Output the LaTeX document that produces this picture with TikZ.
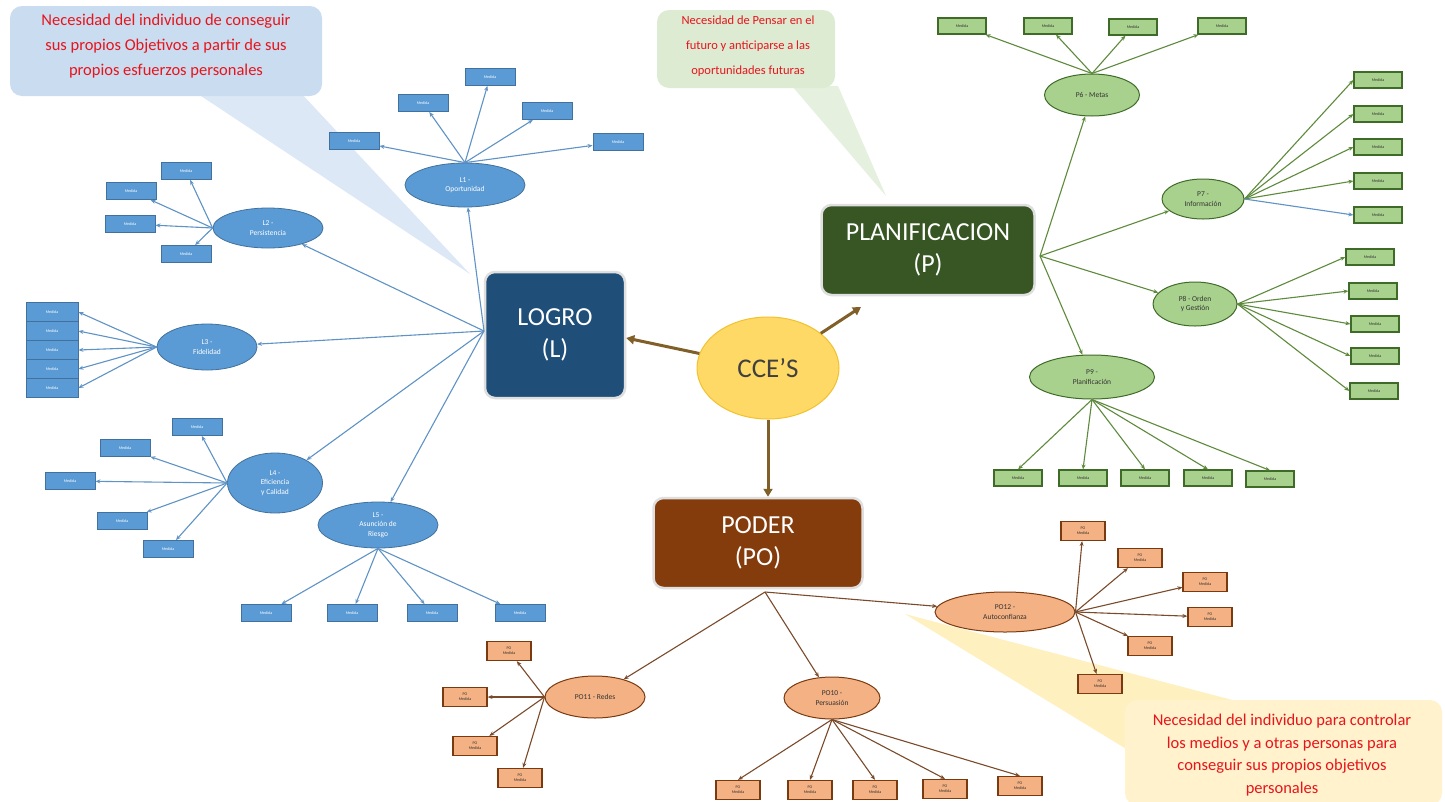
\documentclass[tikz,border=0pt]{standalone}
\usepackage{fontspec}
\setmainfont{Carlito}
\usetikzlibrary{shapes.geometric,arrows.meta}
\definecolor{bfill}{HTML}{5B9BD5}
\definecolor{bdraw}{HTML}{41719C}
\definecolor{barrc}{HTML}{5F93C6}
\definecolor{gfill}{HTML}{A9D18E}
\definecolor{gdraw}{HTML}{3F6B28}
\definecolor{garrc}{HTML}{5E8A3C}
\definecolor{ofill}{HTML}{F4B183}
\definecolor{odraw}{HTML}{7A3A10}
\definecolor{oarrc}{HTML}{7B4A2A}
\definecolor{logroc}{HTML}{1F4E79}
\definecolor{planc}{HTML}{375623}
\definecolor{poderc}{HTML}{843C0C}
\definecolor{ccefill}{HTML}{FFD966}
\definecolor{ccedraw}{HTML}{F2C12E}
\definecolor{ccearr}{HTML}{806028}
\definecolor{callb}{HTML}{C9DCF0}
\definecolor{callbt}{HTML}{DCE8F5}
\definecolor{callg}{HTML}{DDEBD3}
\definecolor{callgt}{HTML}{E6F0DE}
\definecolor{cally}{HTML}{FFF2CC}
\definecolor{callyt}{HTML}{FFF0C0}
\definecolor{calltext}{HTML}{E8141B}
\begin{document}
\begin{tikzpicture}[x=1pt,y=-1pt,
  bigbox/.style={rectangle,rounded corners=10pt,draw=gray!25,line width=2.5pt,text=white,
     align=center,font=\fontsize{26}{32}\selectfont,inner sep=0pt},
  bell/.style={ellipse,fill=bfill,draw=bdraw,line width=0.8pt,text=white,align=center,
     font=\fontsize{7.5}{9.5}\selectfont,inner sep=0pt},
  gell/.style={ellipse,fill=gfill,draw=gdraw,line width=1pt,text=black!80,align=center,
     font=\fontsize{7.5}{9.5}\selectfont,inner sep=0pt},
  oell/.style={ellipse,fill=ofill,draw=odraw,line width=1pt,text=black!80,align=center,
     font=\fontsize{7.5}{9.5}\selectfont,inner sep=0pt},
  bleaf/.style={rectangle,fill=bfill,draw=bdraw,line width=0.8pt,text=white,
     minimum width=50pt,minimum height=17pt,inner sep=0pt,font=\fontsize{4}{5}\selectfont,align=center},
  gleaf/.style={rectangle,fill=gfill,draw=gdraw,line width=1.2pt,text=black!80,
     minimum width=48pt,minimum height=16pt,inner sep=0pt,font=\fontsize{4}{5}\selectfont,align=center},
  oleaf/.style={rectangle,fill=ofill,draw=odraw,line width=1.2pt,text=black!80,
     minimum width=44pt,minimum height=19pt,inner sep=0pt,font=\fontsize{4}{5}\selectfont,align=center},
  barr/.style={draw=barrc,line width=1.1pt,-{Stealth[length=5pt,width=4pt]}},
  garr/.style={draw=garrc,line width=1.1pt,-{Stealth[length=5pt,width=4pt]}},
  oarr/.style={draw=oarrc,line width=1.1pt,-{Stealth[length=5pt,width=4pt]}},
  carr/.style={draw=ccearr,line width=3pt,-{Triangle[length=8pt,width=9pt]}},
  calltxt/.style={text=calltext,align=center,inner sep=0pt}
]
\useasboundingbox[fill=white] (0,0) rectangle (1445,801);

% ---- callouts ----
\fill[callbt] (195,92) -- (470,274) -- (300,92) -- cycle;
\fill[callb,rounded corners=12pt] (10,6) rectangle (322,96);
\node[calltxt,font=\fontsize{16.5}{25}\selectfont] (cb) at (166,46) {Necesidad del individuo de conseguir\\sus propios Objetivos a partir de sus\\propios esfuerzos personales};

\fill[callgt] (792,86) -- (886,196) -- (838,86) -- cycle;
\fill[callg,rounded corners=12pt] (657,10) rectangle (835,88);
\node[calltxt,font=\fontsize{12.5}{25}\selectfont] (cg) at (748,46) {Necesidad de Pensar en el\\futuro y anticiparse a las\\oportunidades futuras};

\fill[callyt] (905,614) -- (1240,702) -- (1128,750) -- cycle;
\fill[cally,rounded corners=12pt] (1125,700) rectangle (1442,805);
\node[calltxt,font=\fontsize{16.5}{22.5}\selectfont] (cy) at (1282,755) {Necesidad del individuo para controlar\\los medios y a otras personas para\\conseguir sus propios objetivos\\personales};

% ---- main nodes ----
\node[bigbox,fill=logroc,minimum width=140pt,minimum height=126pt] (LOGRO) at (555,335) {LOGRO\\(L)};
\node[bigbox,fill=planc,minimum width=213pt,minimum height=90pt] (PLAN) at (928,250) {PLANIFICACION\\(P)};
\node[bigbox,fill=poderc,minimum width=209pt,minimum height=90pt] (PODER) at (758,543) {PODER\\(PO)};
\node[ellipse,fill=ccefill,draw=ccedraw,line width=1pt,minimum width=142pt,minimum height=102pt,
      font=\fontsize{27}{30}\selectfont,text=black!75] (CCE) at (768,368) {CCE’S};

\draw[carr] (CCE) -- (LOGRO.east |- 0,338);
\draw[carr] (CCE) -- (861,307);
\draw[carr] (CCE) -- (PODER.north -| CCE);

% ---- LOGRO branch ----
\coordinate (Lsrc) at (484,331);
\node[bell,minimum width=120pt,minimum height=44pt] (L1) at (465,185) {L1 -\\Oportunidad};
\node[bell,minimum width=110pt,minimum height=40pt] (L2) at (268,228) {L2 -\\Persistencia};
\node[bell,minimum width=100pt,minimum height=46pt] (L3) at (207,347) {L3 -\\Fidelidad};
\node[bell,minimum width=95pt,minimum height=60pt] (L4) at (275,483) {L4 -\\Eficiencia\\y Calidad};
\node[bell,minimum width=120pt,minimum height=46pt] (L5) at (378,525) {L5 -\\Asunción de\\Riesgo};
\foreach \t in {L1,L2,L3,L4,L5} {\draw[barr] (Lsrc) -- (\t);}

\foreach \n/\x/\y in {a/354/141,b/423/103,c/490/77,d/547/111,e/618/142} {
  \node[bleaf] (L1\n) at (\x,\y) {Medida};
  \draw[barr] (L1.north) -- (L1\n);}
\foreach \n/\x/\y in {a/186/171,b/131/191,c/130/224,d/186/254} {
  \node[bleaf] (L2\n) at (\x,\y) {Medida};
  \draw[barr] (L2.west) -- (L2\n);}
\foreach \n/\x/\y in {a/52/312,b/52/331,c/52/350,d/52/369,e/52/388} {
  \node[bleaf,minimum width=52pt,minimum height=19pt] (L3\n) at (\x,\y) {Medida};
  \draw[barr] (L3.west) -- (L3\n.east);}
\foreach \n/\x/\y in {a/197/427,b/125/448,c/70/481,d/122/521,e/168/549} {
  \node[bleaf] (L4\n) at (\x,\y) {Medida};
  \draw[barr] (L4.west) -- (L4\n);}
\foreach \n/\x/\y in {a/266/613,b/352/613,c/432/613,d/520/613} {
  \node[bleaf] (L5\n) at (\x,\y) {Medida};
  \draw[barr] (L5.south) -- (L5\n);}

% ---- PLANIFICACION branch ----
\coordinate (Psrc) at (1040,256);
\node[gell,minimum width=95pt,minimum height=42pt] (P6) at (1092,95) {P6 - Metas};
\node[gell,minimum width=82pt,minimum height=40pt] (P7) at (1203,199) {P7 -\\Información};
\node[gell,minimum width=84pt,minimum height=44pt] (P8) at (1195,304) {P8 - Orden\\y Gestión};
\node[gell,minimum width=125pt,minimum height=44pt] (P9) at (1092,377) {P9 -\\Planificación};
\foreach \t in {P6,P7,P8,P9} {\draw[garr] (Psrc) -- (\t);}

\foreach \n/\x/\y in {a/962/26,b/1048/26,c/1133/27,d/1222/26} {
  \node[gleaf] (P6\n) at (\x,\y) {Medida};
  \draw[garr] (P6.north) -- (P6\n);}
\foreach \n/\x/\y in {a/1378/80,b/1378/114,c/1378/147,d/1378/181} {
  \node[gleaf] (P7\n) at (\x,\y) {Medida};
  \draw[garr] (P7.east) -- (P7\n.west);}
\node[gleaf] (P7e) at (1378,215) {Medida};
\draw[barr] (P7.east) -- (P7e.west);
\foreach \n/\x/\y in {a/1370/257,b/1373/291,c/1375/324,d/1375/356,e/1374/391} {
  \node[gleaf] (P8\n) at (\x,\y) {Medida};
  \draw[garr] (P8.east) -- (P8\n.west);}
\foreach \n/\x/\y in {a/1018/478,b/1083/478,c/1145/478,d/1208/478,e/1270/479} {
  \node[gleaf] (P9\n) at (\x,\y) {Medida};
  \draw[garr] (P9.south) -- (P9\n.north);}

% ---- PODER branch ----
\coordinate (POsrc) at (765,592);
\node[oell,minimum width=100pt,minimum height=42pt] (PO11) at (595,697) {PO11 - Redes};
\node[oell,minimum width=96pt,minimum height=42pt] (PO10) at (832,698) {PO10 -\\Persuasión};
\node[oell,minimum width=140pt,minimum height=40pt] (PO12) at (1005,612) {PO12 -\\Autoconfianza};
\foreach \t in {PO11,PO10,PO12} {\draw[oarr] (POsrc) -- (\t);}

\foreach \n/\x/\y in {a/509/651,b/465/697,c/475/746,d/520/778} {
  \node[oleaf] (PO11\n) at (\x,\y) {PO\\Medida};
  \draw[oarr] (PO11.west) -- (PO11\n);}
\foreach \n/\x/\y in {a/738/790,b/810/790,c/875/790,d/945/789,e/1020/786} {
  \node[oleaf] (PO10\n) at (\x,\y) {PO\\Medida};
  \draw[oarr] (PO10.south) -- (PO10\n.north);}
\foreach \n/\x/\y in {a/1083/531,b/1140/558,c/1205/582,d/1210/617,e/1150/646,f/1100/684} {
  \node[oleaf] (PO12\n) at (\x,\y) {PO\\Medida};
  \draw[oarr] (PO12.east) -- (PO12\n);}
\end{tikzpicture}
\end{document}
